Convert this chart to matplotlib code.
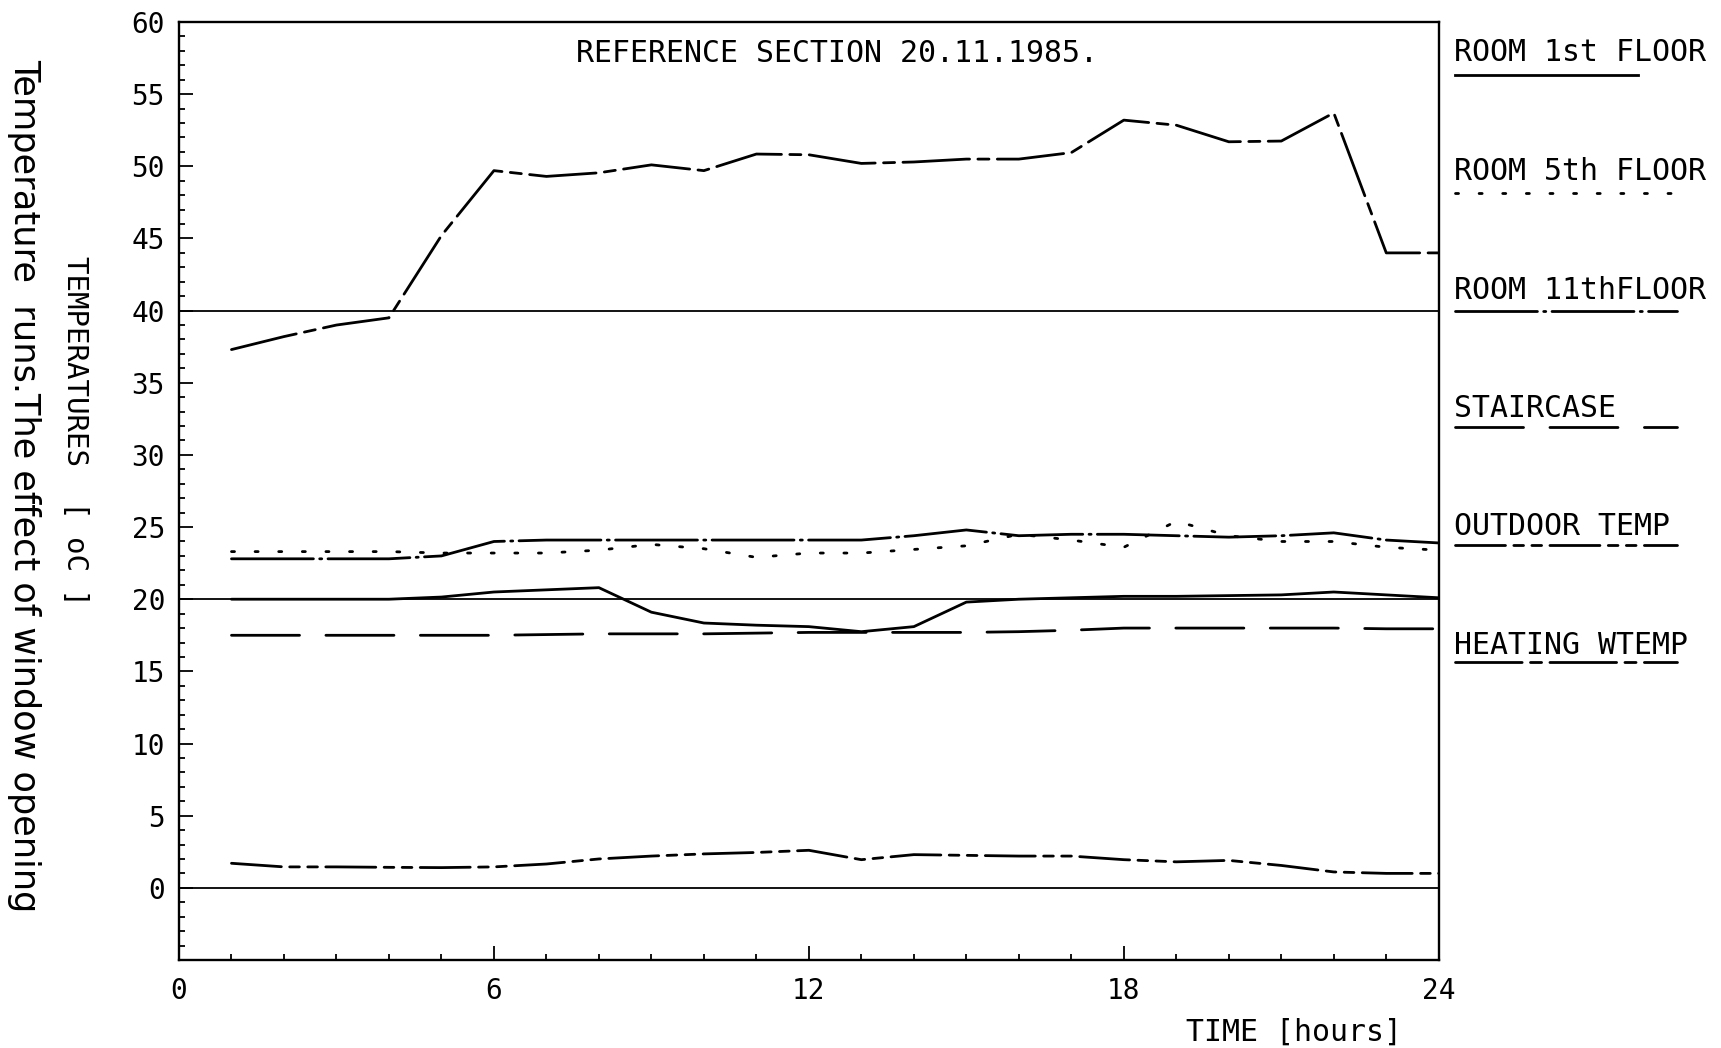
import matplotlib
matplotlib.use("Agg")
import matplotlib.pyplot as plt
from matplotlib.ticker import FixedLocator, MultipleLocator

# hourly readings, 20.11.1985
hours = [1, 2, 3, 4, 5, 6, 7, 8, 9, 10, 11, 12, 13, 14, 15, 16, 17, 18, 19, 20, 21, 22, 23, 24]
room_1st = [20.0, 20.0, 20.0, 20.0, 20.15, 20.5, 20.65, 20.8, 19.1, 18.35, 18.2, 18.1,
            17.75, 18.1, 19.8, 20.0, 20.1, 20.2, 20.2, 20.25, 20.3, 20.5, 20.3, 20.1]
room_5th = [23.3, 23.3, 23.3, 23.3, 23.2, 23.2, 23.2, 23.4, 23.8, 23.5, 22.9, 23.2,
            23.2, 23.45, 23.7, 24.5, 24.1, 23.6, 25.4, 24.4, 24.0, 24.0, 23.6, 23.4]
room_11th = [22.8, 22.8, 22.8, 22.8, 23.0, 24.0, 24.1, 24.1, 24.1, 24.1, 24.1, 24.1,
             24.1, 24.4, 24.8, 24.4, 24.5, 24.5, 24.4, 24.3, 24.4, 24.6, 24.1, 23.9]
staircase = [17.5, 17.5, 17.5, 17.5, 17.5, 17.5, 17.55, 17.6, 17.6, 17.6, 17.65, 17.7,
             17.7, 17.7, 17.7, 17.75, 17.85, 18.0, 18.0, 18.0, 18.0, 18.0, 17.95, 17.95]
outdoor = [1.7, 1.45, 1.45, 1.42, 1.4, 1.45, 1.65, 2.0, 2.2, 2.35, 2.45, 2.6,
           1.95, 2.3, 2.25, 2.2, 2.2, 1.95, 1.8, 1.9, 1.55, 1.1, 1.0, 1.0]
heating = [37.3, 38.2, 39.0, 39.5, 45.2, 49.7, 49.3, 49.55, 50.1, 49.7, 50.85, 50.8,
           50.2, 50.3, 50.5, 50.5, 50.95, 53.2, 52.85, 51.7, 51.75, 53.7, 44.0, 44.0]

labels = ["ROOM 1st FLOOR", "ROOM 5th FLOOR", "ROOM 11thFLOOR",
          "STAIRCASE", "OUTDOOR TEMP", "HEATING WTEMP"]
x_ticks = [0, 6, 12, 18, 24]
y_ticks = [0, 5, 10, 15, 20, 25, 30, 35, 40, 45, 50, 55, 60]

plt.rcParams['lines.scale_dashes'] = False
mono = 'DejaVu Sans Mono'

styles = [
    '-',
    (0, (2.2, 14.8)),
    (0, (59, 4.5, 1.5, 4.5)),
    (0, (49, 19)),
    (0, (36, 6, 7, 6, 7, 6)),
    (0, (48, 6, 8, 6)),
]
series = [room_1st, room_5th, room_11th, staircase, outdoor, heating]

fig = plt.figure(figsize=(17.21, 10.48), dpi=100)
ax = fig.add_axes([0.104, 0.084, 0.732, 0.895])

for s, ls in zip(series, styles):
    ax.plot(hours, s, color='black', lw=2.0, linestyle=ls,
            solid_capstyle='round', dash_capstyle='round')

for g in [0, 20, 40]:
    ax.axhline(g, color='black', lw=1.3)

ax.set_xlim(0, 24)
ax.set_ylim(-5, 60)
ax.xaxis.set_major_locator(FixedLocator(x_ticks))
ax.xaxis.set_minor_locator(MultipleLocator(1))
ax.yaxis.set_minor_locator(MultipleLocator(1))
ax.set_yticks([-5] + y_ticks, labels=[''] + [str(v) for v in y_ticks])
ax.set_xticks(x_ticks, labels=[str(v) for v in x_ticks])
ax.tick_params(which='both', direction='in', color='black', width=1.3,
               top=False, right=False)
ax.tick_params(which='major', length=10, labelsize=20, pad=12)
ax.tick_params(which='minor', length=4.5)
ax.tick_params(axis='y', which='major', pad=10)
for lab in ax.get_xticklabels() + ax.get_yticklabels():
    lab.set_family(mono)
for sp in ax.spines.values():
    sp.set_linewidth(1.7)

ax.text(0.5225, 0.957, "REFERENCE SECTION 20.11.1985.", transform=ax.transAxes,
        ha='center', va='baseline', fontsize=21.5, family=mono)

# legend drawn to the right of the frame, text with a line sample below
text_y = [0.958, 0.832, 0.705, 0.579, 0.453, 0.326]
line_y = [0.944, 0.818, 0.692, 0.568, 0.442, 0.318]
for i, (lab, ls) in enumerate(zip(labels, styles)):
    ax.text(1.012, text_y[i], lab, transform=ax.transAxes, ha='left',
            va='baseline', fontsize=21.5, family=mono, clip_on=False)
    x_end = 1.158 if i == 0 else 1.189
    ax.plot([1.013, x_end], [line_y[i], line_y[i]], transform=ax.transAxes,
            color='black', lw=2.0, linestyle=ls, clip_on=False,
            dash_capstyle='round')

fig.text(0.7516, 0.0072, "TIME [hours]", ha='center', va='baseline',
         fontsize=21.5, family=mono)
fig.text(0.0434, 0.589, "TEMPERATURES  [ oC ]", ha='center', va='center',
         rotation=-90, fontsize=21, family=mono)
fig.text(0.014, 0.537, "Temperature  runs.The effect of window opening",
         ha='center', va='center', rotation=-90, fontsize=25.3, family='DejaVu Sans')

fig.savefig("out.png", dpi=100)
